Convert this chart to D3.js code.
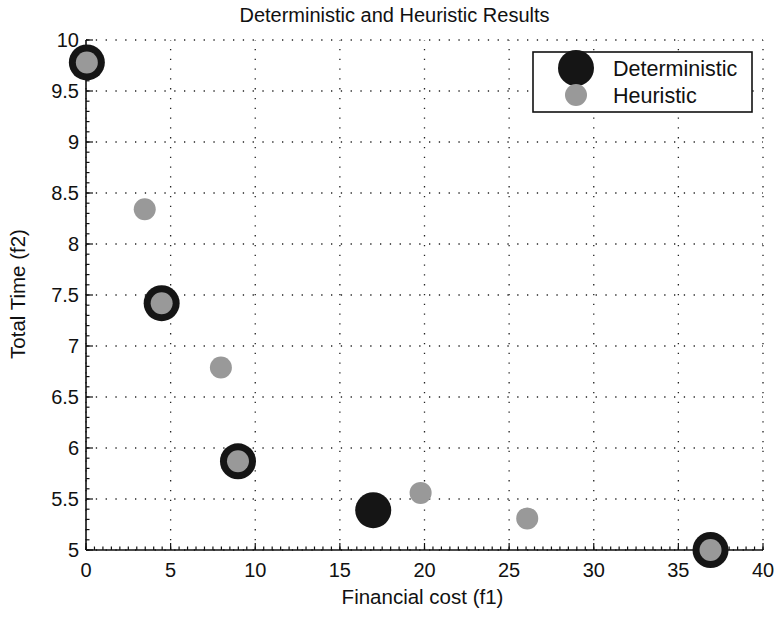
<!DOCTYPE html>
<html>
<head>
<meta charset="utf-8">
<script src="https://cdn.jsdelivr.net/npm/d3@7/dist/d3.min.js"></script>
<style>
  html, body { margin: 0; padding: 0; background: #fff; }
  svg { display: block; font-family: "Liberation Sans", Arial, Helvetica, sans-serif; }
</style>
</head>
<body>
<svg id="chart" width="775" height="617"></svg>
<script>
// ---- Data ----
const deterministicX = [0.05, 4.47, 8.98, 16.97, 36.9];
const deterministicY = [9.78, 7.42, 5.87, 5.39, 5.0];
const heuristicX = [0.05, 3.47, 4.47, 7.97, 8.98, 19.77, 26.07, 36.9];
const heuristicY = [9.78, 8.34, 7.42, 6.79, 5.87, 5.56, 5.31, 5.0];
const xTicks = [0, 5, 10, 15, 20, 25, 30, 35, 40];
const yTicks = [5, 5.5, 6, 6.5, 7, 7.5, 8, 8.5, 9, 9.5, 10];
const seriesNames = ["Deterministic", "Heuristic"];
const titleText = "Deterministic and Heuristic Results";
const xLabelText = "Financial cost (f1)";
const yLabelText = "Total Time (f2)";

// ---- Layout ----
const svg = d3.select("#chart");
const pL = 86, pR = 763, pT = 40, pB = 550;
const x = d3.scaleLinear().domain([0, 40]).range([pL, pR]);
const y = d3.scaleLinear().domain([5, 10]).range([pB, pT]);

const blackCol = "#151515", grayCol = "#999999";

// grid
const grid = svg.append("g").attr("stroke", "#222").attr("stroke-width", 1.3)
  .attr("stroke-dasharray", "1.3 8.5");
grid.selectAll("line.gx").data(xTicks).join("line")
  .attr("x1", d => x(d)).attr("x2", d => x(d))
  .attr("y1", pB).attr("y2", pT);
grid.append("g").selectAll("line").data(yTicks).join("line")
  .attr("x1", pL).attr("x2", pR)
  .attr("y1", d => y(d)).attr("y2", d => y(d));

// axes: ticks inward
const xMinor = d3.range(0, 40.001, 0.5);
const yMinor = d3.range(5, 10.001, 0.1);
const axG = svg.append("g").attr("stroke", "#111").attr("stroke-width", 1.2);
axG.append("g").selectAll("line").data(xMinor).join("line")
  .attr("x1", d => x(d)).attr("x2", d => x(d))
  .attr("y1", pB).attr("y2", pB - 3.5);
axG.append("g").selectAll("line").data(xTicks).join("line")
  .attr("x1", d => x(d)).attr("x2", d => x(d))
  .attr("y1", pB).attr("y2", pB - 7);
axG.append("g").selectAll("line").data(yMinor).join("line")
  .attr("x1", pL).attr("x2", pL + 3.5)
  .attr("y1", d => y(d)).attr("y2", d => y(d));
axG.append("g").selectAll("line").data(yTicks).join("line")
  .attr("x1", pL).attr("x2", pL + 7)
  .attr("y1", d => y(d)).attr("y2", d => y(d));
svg.append("line").attr("x1", pL).attr("x2", pR).attr("y1", pB).attr("y2", pB)
  .attr("stroke", "#111").attr("stroke-width", 1.6);
svg.append("line").attr("x1", pL).attr("x2", pL).attr("y1", pB).attr("y2", pT)
  .attr("stroke", "#111").attr("stroke-width", 1.6);

// tick labels
svg.append("g").selectAll("text").data(xTicks).join("text")
  .attr("x", d => x(d)).attr("y", 577)
  .attr("text-anchor", "middle").attr("font-size", 20).attr("fill", "#111")
  .text(d => d);
svg.append("g").selectAll("text").data(yTicks).join("text")
  .attr("x", pL - 7).attr("y", d => y(d) + 7)
  .attr("text-anchor", "end").attr("font-size", 20).attr("fill", "#111")
  .text(d => d);

// title and labels
svg.append("text").attr("x", (pL + pR) / 2 - 30).attr("y", 22)
  .attr("text-anchor", "middle").attr("font-size", 20).attr("fill", "#111").text(titleText);
svg.append("text").attr("x", (pL + pR) / 2 - 2).attr("y", 604)
  .attr("text-anchor", "middle").attr("font-size", 20.5).attr("fill", "#111").text(xLabelText);
svg.append("text").attr("transform", "translate(25," + 294 + ") rotate(-90)")
  .attr("text-anchor", "middle").attr("font-size", 20.5).attr("fill", "#111").text(yLabelText);

// points
const detData = deterministicX.map((v, i) => ({ x: v, y: deterministicY[i] }));
const heuData = heuristicX.map((v, i) => ({ x: v, y: heuristicY[i] }));
svg.append("g").selectAll("circle").data(detData).join("circle")
  .attr("cx", d => x(d.x)).attr("cy", d => y(d.y)).attr("r", 18)
  .attr("fill", blackCol);
svg.append("g").selectAll("circle").data(heuData).join("circle")
  .attr("cx", d => x(d.x)).attr("cy", d => y(d.y)).attr("r", 11)
  .attr("fill", grayCol);

// legend
const lg = svg.append("g");
lg.append("rect").attr("x", 533).attr("y", 52).attr("width", 219).attr("height", 60)
  .attr("fill", "#fff").attr("stroke", "#111").attr("stroke-width", 1.6);
lg.append("circle").attr("cx", 576).attr("cy", 68).attr("r", 18).attr("fill", blackCol);
lg.append("circle").attr("cx", 576).attr("cy", 95).attr("r", 11).attr("fill", grayCol);
lg.append("text").attr("x", 613).attr("y", 76).attr("font-size", 21.5).attr("fill", "#111").text(seriesNames[0]);
lg.append("text").attr("x", 613).attr("y", 103).attr("font-size", 21.5).attr("fill", "#111").text(seriesNames[1]);
</script>
</body>
</html>
